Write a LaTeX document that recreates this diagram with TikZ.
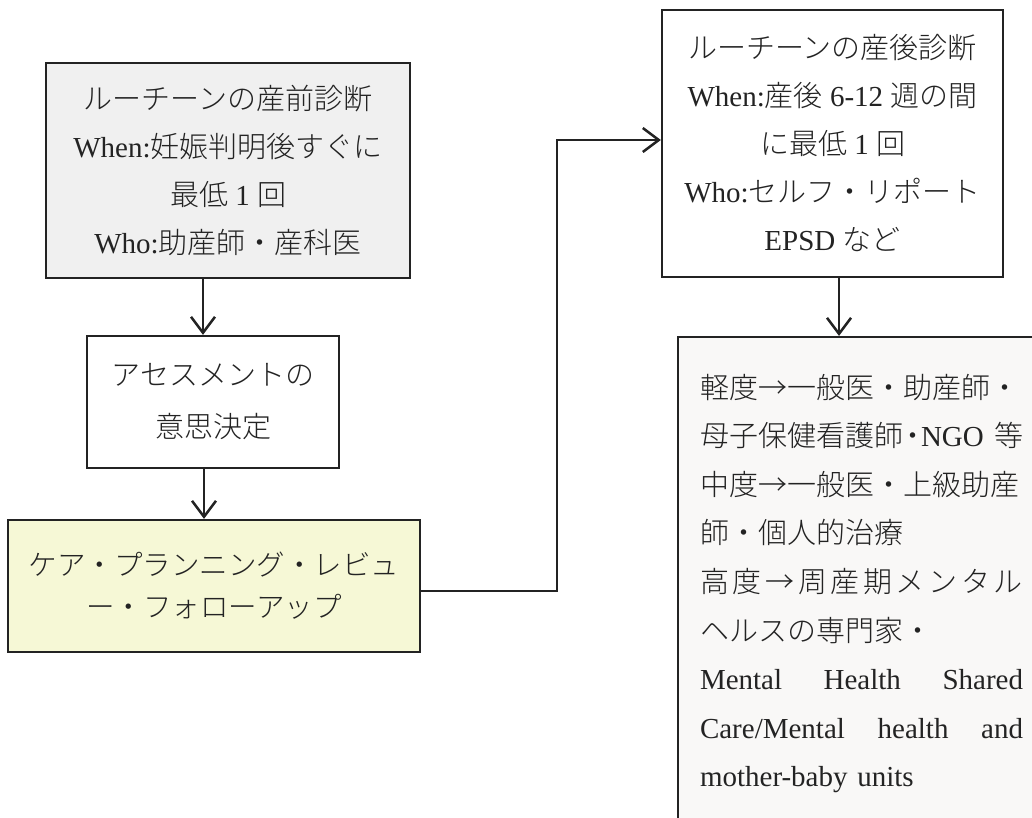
\documentclass[tikz,border=0pt]{standalone}
\usepackage{fontspec}
\setmainfont{Liberation Serif}
\newfontfamily\cjk{Noto Sans CJK JP}[UprightFont={* Light}]
\usetikzlibrary{arrows.meta}
\newcommand\J[1]{{\cjk #1}}
\definecolor{boxgray}{RGB}{240,240,240}
\definecolor{boxyellow}{RGB}{246,248,214}
\definecolor{boxlight}{RGB}{249,248,247}
\definecolor{ink}{RGB}{35,35,35}
\begin{document}
\begin{tikzpicture}[x=1pt,y=-1pt,
  box/.style={draw=ink,line width=2.2pt,inner sep=0pt,align=center,text=ink,font=\fontsize{29}{48}\selectfont},
  arr/.style={draw=ink,line width=2.5pt,-{Straight Barb[length=16pt,width=24pt]}}]
\clip (0,0) rectangle (1032,818);
\fill[white] (0,0) rectangle (1032,818);

\node[box,fill=boxgray,minimum width=364pt,minimum height=215pt] (b1) at (228,170.5)
  {\J{ルーチーンの産前診断}\\When:\J{妊娠判明後すぐに}\\\J{最低} 1 \J{回}\\Who:\J{助産師・産科医}};

\node[box,fill=white,minimum width=252pt,minimum height=132pt,font=\fontsize{29}{52}\selectfont] (b2) at (213,402)
  {\J{アセスメントの}\\\J{意思決定}};

\node[box,fill=boxyellow,minimum width=412pt,minimum height=132pt,font=\fontsize{28.5}{42}\selectfont] (b3) at (214,586)
  {\J{ケア・プランニング・レビュ}\\\J{ー・フォローアップ}};

\node[box,fill=white,minimum width=341pt,minimum height=267pt] (b4) at (832.5,143.5)
  {\J{ルーチーンの産後診断}\\When:\J{産後} 6-12 \J{週の間}\\\J{に最低} 1 \J{回}\\Who:\J{セルフ・リポート}\\EPSD \J{など}};

\node[box,fill=boxlight,minimum width=367pt,minimum height=493pt,text width=323pt,align=left,font=\fontsize{29}{48.6}\selectfont] (b5) at (861.5,583.5)
  {\J{軽度→一般医・助産師・}\\
   \J{母子保健看護師}\kern-5pt\J{・}\kern-6pt NGO\hfill\J{等}\\
   \J{中度→一般医・上級助産}\\
   \J{師・個人的治療}\\
   \J{高\hfill 度\hfill →\hfill 周\hfill 産\hfill 期\hfill メ\hfill ン\hfill タ\hfill ル}\\
   \J{ヘルスの専門家・}\\
   Mental\hfill Health\hfill Shared\\
   Care/Mental\hfill health\hfill and\\
   mother-baby units};

\coordinate (x1) at (203,0);
\coordinate (x2) at (204,0);
\coordinate (x4) at (839,0);
\coordinate (k) at (557,0);
\coordinate (y4) at (0,140);
\coordinate (y3) at (0,591);

\draw[arr] (b1.south -| x1) -- (b2.north -| x1);
\draw[arr] (b2.south -| x2) -- (b3.north -| x2);
\draw[arr] (b4.south -| x4) -- (b5.north -| x4);
\draw[arr] (b3.east |- y3) -- (k |- y3) -- (k |- y4) -- (b4.west |- y4);
\end{tikzpicture}
\end{document}
